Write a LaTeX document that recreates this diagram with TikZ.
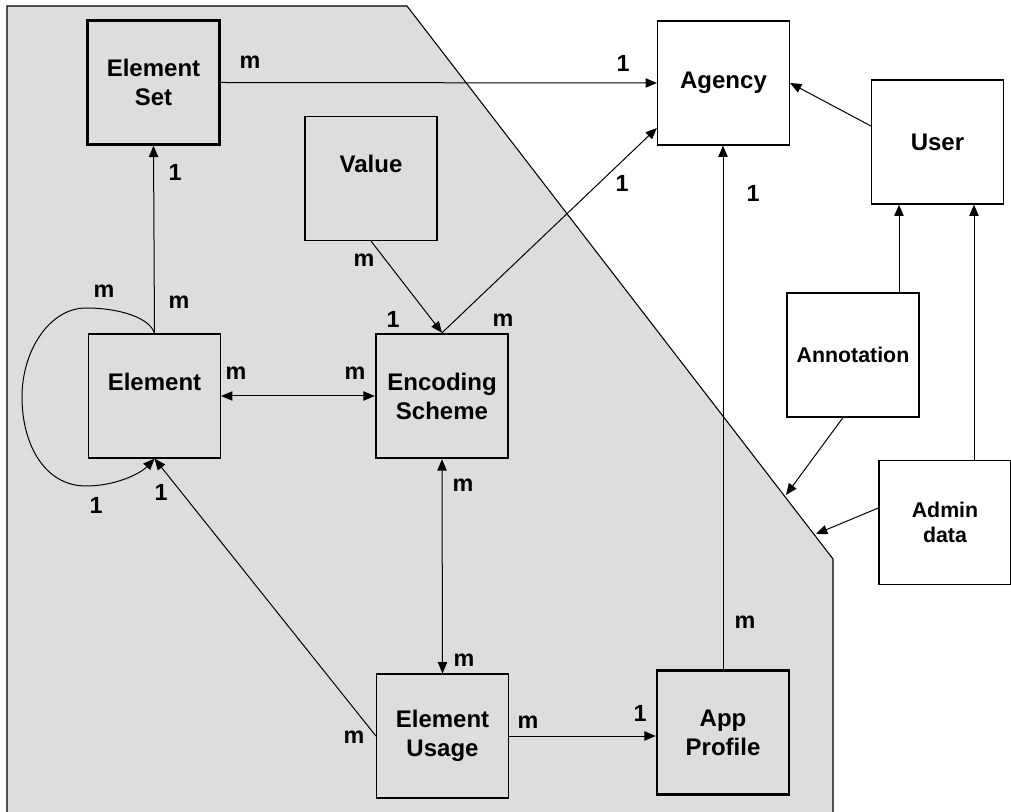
\documentclass[tikz,border=0pt]{standalone}
\usepackage{fontspec}
\setmainfont{Liberation Sans}
\usetikzlibrary{arrows.meta,calc}
\definecolor{panel}{RGB}{221,221,221}
\begin{document}
\begin{tikzpicture}[x=0.75pt,y=-0.75pt,
  box/.style={draw, line width=0.9pt, minimum width=99pt, minimum height=93pt, inner sep=0pt, align=center, font=\fontsize{18}{21.75}\selectfont\bfseries},
  thickbox/.style={box, line width=1.8pt},
  smallbox/.style={box, font=\fontsize{16}{18.75}\selectfont\bfseries},
  txt/.style={font=\fontsize{18}{21.75}\selectfont\bfseries, inner sep=0pt},
  lbl/.style={font=\fontsize{17.5}{19}\selectfont\bfseries, inner sep=0pt},
  conn/.style={line width=0.75pt, -{Triangle[length=8.5pt,width=7pt]}},
  biconn/.style={line width=0.75pt, {Triangle[length=8.5pt,width=7pt]}-{Triangle[length=8.5pt,width=7pt]}}]
\useasboundingbox (0,0) rectangle (1011,812);
\fill[panel] (7,812) -- (7,6) -- (407,6) -- (833,559) -- (833,812) -- cycle;
\draw[line width=0.8pt] (7,812) -- (7,6) -- (407,6) -- (833,559) -- (833,812);

% boxes
\node[thickbox] (eset) at (153.5,82.5) {Element\\Set};
\node[box] (value) at (371,178.5) {};
\node[txt] (valuet) at ($(value.center)+(0,-15)$) {Value};
\node[box] (element) at (154.5,396) {};
\node[txt] (elementt) at ($(element.center)+(0,-14)$) {Element};
\node[thickbox] (enc) at (442,396) {Encoding\\Scheme};
\node[box] (eusage) at (442.5,736) {Element\\Usage};
\node[thickbox] (app) at (723,732.5) {App\\Profile};
\node[box] (agency) at (723.5,83) {Agency};
\node[box] (user) at (937.5,142) {User};
\node[smallbox] (annot) at (853,355) {Annotation};
\node[smallbox] (admin) at (945,522.5) {Admin\\data};

% connectors
\draw[conn] (eset.east) -- (agency.west);
\draw[conn] (element.north) -- (eset.south);
\draw[conn] (element.north) .. controls (150,318) and (120,308) .. (86,308)
  .. controls (50,308) and (22,350) .. (22,397)
  .. controls (22,445) and (45,486) .. (86,486)
  .. controls (115,486) and (140,474) .. (element.south);
\draw[conn] (value.south) -- (enc.north);
\draw[conn] (enc.north) -- ([yshift=-33.75pt]agency.west);
\draw[biconn] (element.east) -- (enc.west);
\draw[biconn] (enc.south) -- (eusage.north);
\draw[conn] (eusage.west) -- (element.south);
\draw[conn] (eusage.east) -- (eusage.east -| app.west);
\draw[conn] (app.north) -- (app.north |- agency.south);
\draw[conn] ([yshift=12pt]user.west) -- (agency.east);
\coordinate (annotout) at ([xshift=34.5pt]annot.north);
\draw[conn] (annotout) -- (annotout |- user.south);
\coordinate (adminout) at ([xshift=21.75pt]admin.north);
\draw[conn] (adminout) -- (adminout |- user.south);
\coordinate (annotdown) at ([xshift=-7.5pt]annot.south);
\coordinate (edgeA) at (786,495);
\draw[conn] (annotdown) -- (edgeA);
\coordinate (adminleft) at ([yshift=10.9pt]admin.west);
\coordinate (edgeB) at (816,534);
\draw[conn] (adminleft) -- (edgeB);

% multiplicity labels
\node[lbl] (l1) at (250,62) {m};
\node[lbl] (l2) at (623,63) {1};
\node[lbl] (l3) at (175,172) {1};
\node[lbl] (l4) at (364,260) {m};
\node[lbl] (l5) at (104,291) {m};
\node[lbl] (l6) at (179,302) {m};
\node[lbl] (l7) at (393,319) {1};
\node[lbl] (l8) at (503,320) {m};
\node[lbl] (l9) at (622,183) {1};
\node[lbl] (l10) at (753,193) {1};
\node[lbl] (l11) at (236,373) {m};
\node[lbl] (l12) at (355,373) {m};
\node[lbl] (l13) at (96,505) {1};
\node[lbl] (l14) at (161,492) {1};
\node[lbl] (l15) at (463,485) {m};
\node[lbl] (l16) at (464,660) {m};
\node[lbl] (l17) at (354,737) {m};
\node[lbl] (l18) at (528,722) {m};
\node[lbl] (l19) at (640,713) {1};
\node[lbl] (l20) at (745,622) {m};
\end{tikzpicture}
\end{document}
